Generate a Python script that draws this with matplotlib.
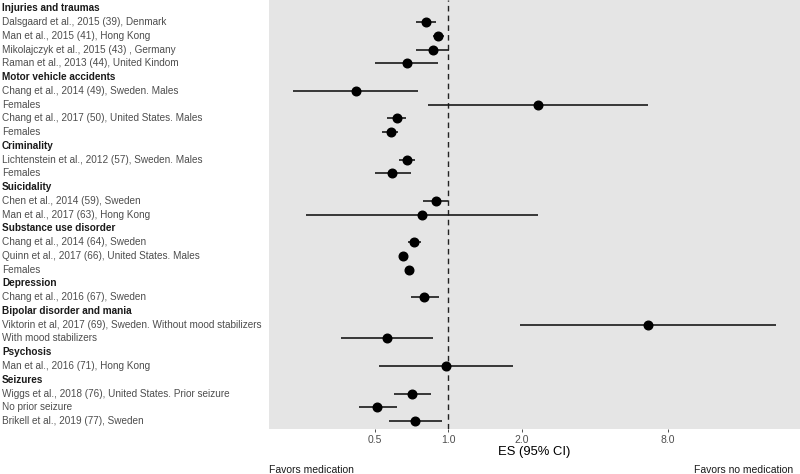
import matplotlib
matplotlib.use("Agg")
import matplotlib.pyplot as plt
import matplotlib.transforms as mtrans
import numpy as np

plt.rcParams['font.family'] = ['Liberation Sans', 'DejaVu Sans']

labels = [
    "Injuries and traumas",
    "Dalsgaard et al., 2015 (39), Denmark",
    "Man et al., 2015 (41), Hong Kong",
    "Mikolajczyk et al., 2015 (43) , Germany",
    "Raman et al., 2013 (44), United Kindom",
    "Motor vehicle accidents",
    "Chang et al., 2014 (49), Sweden. Males",
    "Females",
    "Chang et al., 2017 (50), United States. Males",
    "Females",
    "Criminality",
    "Lichtenstein et al., 2012 (57), Sweden. Males",
    "Females",
    "Suicidality",
    "Chen et al., 2014 (59), Sweden",
    "Man et al., 2017 (63), Hong Kong",
    "Substance use disorder",
    "Chang et al., 2014 (64), Sweden",
    "Quinn et al., 2017 (66), United States. Males",
    "Females",
    "Depression",
    "Chang et al., 2016 (67), Sweden",
    "Bipolar disorder and mania",
    "Viktorin et al, 2017 (69), Sweden. Without mood stabilizers",
    "With mood stabilizers",
    "Psychosis",
    "Man et al., 2016 (71), Hong Kong",
    "Seizures",
    "Wiggs et al., 2018 (76), United States. Prior seizure",
    "No prior seizure",
    "Brikell et al., 2019 (77), Sweden",
]
is_header = [1,0,0,0,0,1,0,0,0,0,1,0,0,1,0,0,1,0,0,0,1,0,1,0,0,1,0,1,0,0,0]
N = np.nan
es = [N,0.81,0.91,0.868,0.678,N,0.418,2.34,0.616,0.578,N,0.678,0.588,N,0.885,0.776,N,0.725,0.649,0.689,N,0.797,N,6.6,0.557,N,0.973,N,0.706,0.508,0.727]
lo = [N,0.738,0.865,0.738,0.50,N,0.229,0.827,0.561,0.531,N,0.629,0.50,N,0.787,0.26,N,0.68,0.635,0.675,N,0.699,N,1.97,0.361,N,0.519,N,0.598,0.429,0.569]
hi = [N,0.889,0.963,1.007,0.904,N,0.748,6.6,0.669,0.619,N,0.727,0.701,N,0.993,2.34,N,0.769,0.665,0.705,N,0.916,N,22.2,0.868,N,1.85,N,0.85,0.616,0.941]
xticks = [0.5, 1.0, 2.0, 8.0]
xtick_labels = ["0.5", "1.0", "2.0", "8.0"]

W, H = 800, 474
fig = plt.figure(figsize=(W/100, H/100), dpi=100)
left_px, right_px, top_px, bottom_px = 268.6, 800, 0, 429.3
ax = fig.add_axes([left_px/W, 1 - bottom_px/H, (right_px-left_px)/W, (bottom_px-top_px)/H])
ax.set_facecolor('#E5E5E5')
for s in ax.spines.values():
    s.set_visible(False)

n = len(labels)
y = np.array([n - 1 - i for i in range(n)], dtype=float)
es_a, lo_a, hi_a = np.array(es), np.array(lo), np.array(hi)
m = ~np.isnan(es_a)

ax.set_xscale('log')
ax.hlines(y[m], lo_a[m], hi_a[m], color='#1a1a1a', lw=1.2, zorder=2)
ax.plot(es_a[m], y[m], 'o', color='black', ms=6.2, zorder=3)
ax.axvline(1.0, color='#222222', lw=1.0, ls=(0, (4, 3)), zorder=1)

llo, lhi = np.log2(np.nanmin(lo_a)), np.log2(np.nanmax(hi_a))
pad = 0.05 * (lhi - llo)
ax.set_xlim(2**(llo - pad), 2**(lhi + pad))
ax.set_ylim(-0.6, n - 1 + 0.6)

ax.set_xticks(xticks)
ax.set_xticklabels(xtick_labels)
ax.xaxis.set_minor_locator(matplotlib.ticker.NullLocator())
ax.tick_params(axis='x', length=2.5, width=0.6, color='#333333', labelsize=7.5,
               labelcolor='#4D4D4D', pad=1.5)
ax.set_yticks([])

tr = mtrans.blended_transform_factory(fig.transFigure, ax.transData)
for yi, lab, hd in zip(y, labels, is_header):
    ax.text(0.0025, yi, lab, transform=tr, ha='left', va='center', fontsize=7.2,
            fontweight='bold' if hd else 'normal',
            color='#1a1a1a' if hd else '#4D4D4D')

fig.text((left_px + right_px)/2/W, 1 - 452/H, "ES (95% CI)", ha='center', va='center',
         fontsize=9.4, color='black')
fig.text(left_px/W, 1 - 470/H, "Favors medication", ha='left', va='center',
         fontsize=7.5, color='#1a1a1a')
fig.text(793/W, 1 - 470/H, "Favors no medication", ha='right', va='center',
         fontsize=7.5, color='#1a1a1a')

fig.savefig("out.png", dpi=100)
